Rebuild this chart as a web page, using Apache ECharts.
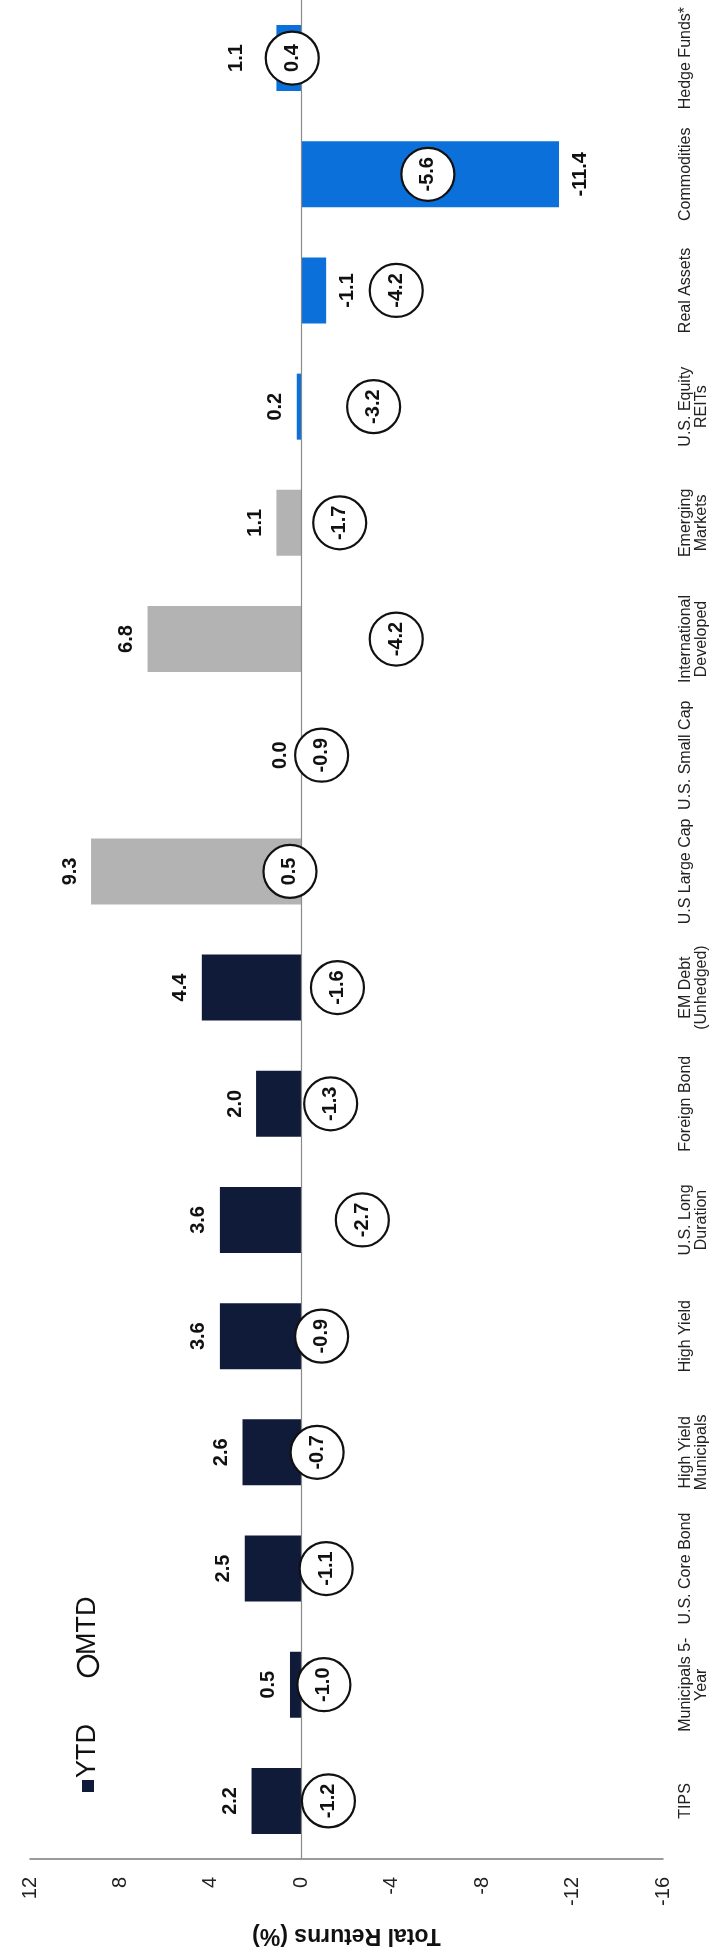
<!DOCTYPE html>
<html>
<head>
<meta charset="utf-8">
<style>
html,body{margin:0;padding:0;background:#fff;}
#chart{width:712px;height:1959px;}
</style>
<script src="https://cdn.jsdelivr.net/npm/echarts@6/dist/echarts.min.js"></script>
</head>
<body>
<div id="chart"></div>
<script>
// ---- data ----
const categories = ['TIPS', 'Municipals 5-\nYear', 'U.S. Core Bond', 'High Yield\nMunicipals', 'High Yield',
  'U.S. Long\nDuration', 'Foreign Bond', 'EM Debt\n(Unhedged)', 'U.S Large Cap', 'U.S. Small Cap',
  'International\nDeveloped', 'Emerging\nMarkets', 'U.S. Equity\nREITs', 'Real Assets', 'Commodities', 'Hedge Funds*'];
const ytd = [2.2, 0.5, 2.5, 2.6, 3.6, 3.6, 2.0, 4.4, 9.3, 0.0, 6.8, 1.1, 0.2, -1.1, -11.4, 1.1];
const mtd = [-1.2, -1.0, -1.1, -0.7, -0.9, -2.7, -1.3, -1.6, 0.5, -0.9, -4.2, -1.7, -3.2, -4.2, -5.6, 0.4];
const groups = ['fixed', 'fixed', 'fixed', 'fixed', 'fixed', 'fixed', 'fixed', 'fixed',
  'equity', 'equity', 'equity', 'equity', 'real', 'real', 'real', 'real'];
const valueTicks = { min: -16, max: 12, interval: 4 };

// ---- styles ----
const groupColors = { fixed: '#0f1b38', equity: '#b3b3b3', real: '#0b70d9' };
const labelDistanceOverride = { 'Hedge Funds*': 30 };
const FONT = 'Liberation Sans, Arial, Helvetica, sans-serif';

const chart = echarts.init(document.getElementById('chart'), null, { renderer: 'canvas' });

const barData = ytd.map((v, i) => {
  const lbl = v >= 0 ? { position: 'left', verticalAlign: 'bottom' } : { position: 'right', verticalAlign: 'top' };
  if (labelDistanceOverride[categories[i]] !== undefined) lbl.distance = labelDistanceOverride[categories[i]];
  return { value: v, itemStyle: { color: groupColors[groups[i]] }, label: lbl };
});

const option = {
  animation: false,
  backgroundColor: '#ffffff',
  grid: { left: 30, right: 49, top: 0, bottom: 100, containLabel: false },
  xAxis: {
    type: 'value',
    inverse: true,
    min: valueTicks.min,
    max: valueTicks.max,
    interval: valueTicks.interval,
    name: 'Total Returns (%)',
    nameLocation: 'middle',
    nameGap: 65,
    nameRotate: 180,
    nameTextStyle: { fontFamily: FONT, fontSize: 23, fontWeight: 'bold', color: '#111' },
    axisLine: { show: true, onZero: false, lineStyle: { color: '#7a7a7a', width: 1.5 } },
    axisTick: { show: false },
    splitLine: { show: false },
    axisLabel: { rotate: 90, margin: 18, fontFamily: FONT, fontSize: 20, color: '#222' }
  },
  yAxis: {
    type: 'category',
    data: categories,
    position: 'right',
    axisLine: { show: false, onZero: false },
    axisTick: { show: false },
    splitLine: { show: false },
    axisLabel: {
      rotate: 90, margin: 15, align: 'center', verticalAlign: 'top', interval: 0,
      fontFamily: FONT, fontSize: 16, lineHeight: 16, color: '#222'
    }
  },
  series: [
    {
      name: 'YTD',
      type: 'bar',
      data: barData,
      barWidth: 66,
      z: 2,
      label: {
        show: true, rotate: 90, distance: 11, align: 'center',
        fontFamily: FONT, fontSize: 20, fontWeight: 'bold', color: '#111',
        formatter: p => Number(p.value).toFixed(1)
      },
      markLine: {
        silent: true, symbol: 'none', animation: false,
        label: { show: false },
        lineStyle: { color: '#8a8a8a', width: 1.2, type: 'solid' },
        data: [{ xAxis: 0 }]
      }
    },
    {
      name: 'MTD',
      type: 'scatter',
      data: mtd.map((v, i) => [v, i]),
      symbol: 'circle',
      symbolSize: 53,
      z: 5,
      itemStyle: { color: '#ffffff', borderColor: '#111', borderWidth: 2.2, opacity: 1 },
      label: {
        show: true, position: 'inside', rotate: 90, align: 'center', verticalAlign: 'middle',
        fontFamily: FONT, fontSize: 20, fontWeight: 'bold', color: '#111',
        formatter: p => Number(p.value[0]).toFixed(1)
      }
    }
  ],
  graphic: [
    {
      type: 'group',
      x: 88, y: 1792,
      rotation: Math.PI / 2,
      children: [
        { type: 'rect', shape: { x: 0, y: -6, width: 12, height: 12 }, style: { fill: '#0f1b38' } },
        { type: 'text', x: 14, y: 0, style: { text: 'YTD', font: '27px ' + FONT, fill: '#111', verticalAlign: 'middle', align: 'left' } },
        { type: 'circle', shape: { cx: 126, cy: 0, r: 10 }, style: { fill: 'none', stroke: '#111', lineWidth: 2.4 } },
        { type: 'text', x: 137, y: 0, style: { text: 'MTD', font: '27px ' + FONT, fill: '#111', verticalAlign: 'middle', align: 'left' } }
      ]
    }
  ]
};

chart.setOption(option);
</script>
</body>
</html>
